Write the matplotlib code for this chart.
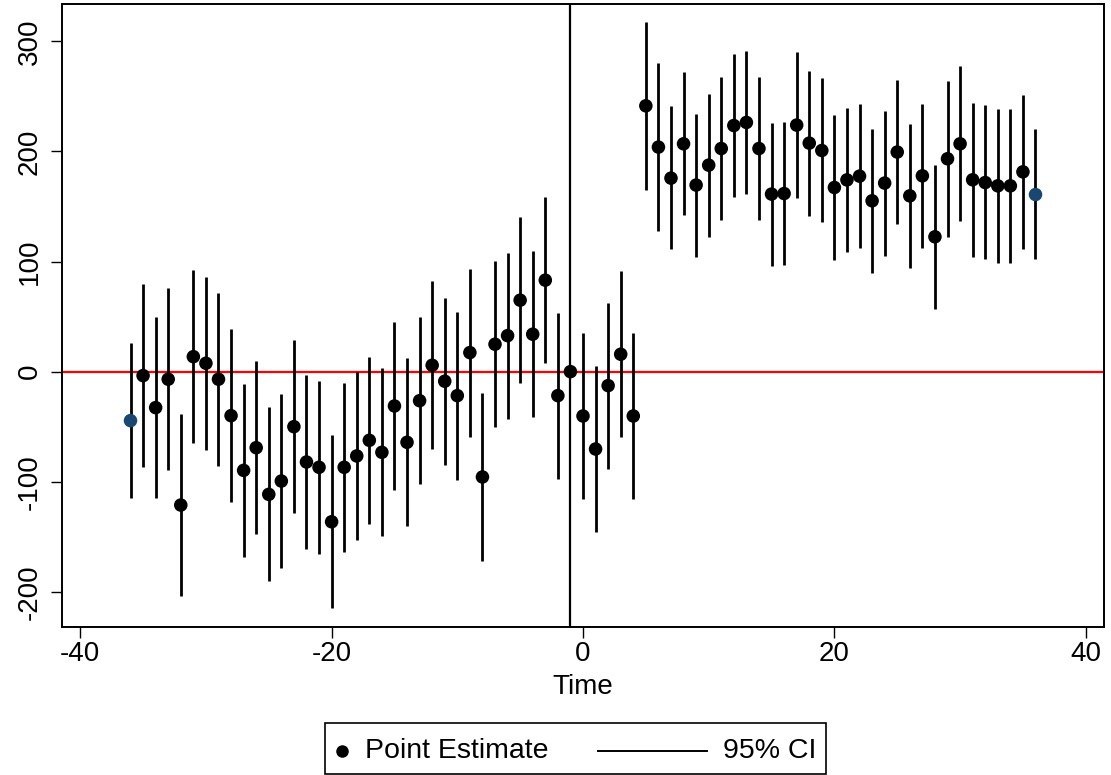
import numpy as np
import matplotlib
matplotlib.use("Agg")
import matplotlib.pyplot as plt
from matplotlib.lines import Line2D
from matplotlib.patches import Rectangle

plt.rcParams['font.family'] = ['Liberation Sans', 'DejaVu Sans']
plt.rcParams['axes.unicode_minus'] = False

# event time, -36 .. 36 (t = -1 is the omitted reference period)
time = np.arange(-36, 37)

estimate = [
    -44.5, -3.6, -32.7, -6.9, -121.2, 13.6, 7.6, -6.9, -40.0, -89.7,
    -69.1, -111.5, -99.4, -50.0, -82.1, -86.9, -136.4, -86.9, -76.6, -62.4,
    -73.3, -31.2, -64.2, -26.4, 5.8, -8.7, -21.8, 17.3, -95.7, 24.9,
    32.7, 64.9, 34.0, 83.1, -21.8, 0.0, -40.3, -70.3, -12.7, 15.8,
    -40.3, 241.5, 204.0, 175.8, 207.0, 169.5, 187.6, 202.7, 223.6, 226.4,
    202.7, 161.3, 161.8, 224.0, 207.6, 200.9, 167.3, 174.2, 177.6, 155.2,
    171.3, 199.5, 159.7, 177.9, 122.5, 193.4, 207.0, 174.3, 171.8, 168.8,
    168.8, 181.5, 160.9,
]

ci_upper = [
    26.4, 79.4, 50.0, 75.8, -38.5, 92.5, 86.4, 71.8, 38.8, -11.2,
    9.7, -32.4, -20.6, 28.8, -3.3, -8.2, -57.5, -10.6, -0.3, 13.6,
    3.1, 45.2, 12.2, 50.0, 82.2, 67.3, 54.3, 93.4, -19.7, 100.4,
    107.9, 140.4, 109.5, 158.5, 53.6, 0.0, 34.9, 5.2, 62.7, 91.5,
    34.9, 317.6, 280.4, 240.9, 271.8, 234.3, 252.5, 267.6, 288.5, 291.3,
    267.6, 225.8, 226.7, 290.0, 273.4, 266.7, 233.1, 239.5, 243.0, 220.6,
    236.4, 264.9, 225.2, 243.1, 187.9, 263.6, 277.3, 244.5, 242.2, 238.8,
    238.8, 251.3, 220.0,
]

ci_lower = [
    -115.1, -86.4, -115.1, -89.4, -203.6, -65.1, -71.2, -85.7, -118.8, -168.2,
    -147.9, -190.3, -178.2, -128.8, -160.9, -165.7, -215.1, -163.6, -153.0, -138.7,
    -149.4, -107.5, -140.3, -102.4, -70.3, -84.8, -98.5, -59.1, -172.1, -50.5,
    -43.0, -10.5, -41.5, 7.6, -97.3, 0.0, -116.0, -145.7, -88.2, -59.7,
    -116.0, 165.2, 127.9, 111.3, 142.2, 104.5, 122.7, 137.9, 158.8, 161.8,
    137.9, 96.1, 97.0, 158.2, 141.5, 135.5, 101.8, 108.5, 112.2, 89.5,
    105.5, 134.0, 94.0, 112.2, 56.7, 122.7, 136.4, 104.5, 102.2, 98.8,
    98.8, 111.5, 102.2,
]

x_ticks = [-40, -20, 0, 20, 40]
y_ticks = [-200, -100, 0, 100, 200, 300]

FS = 20

W, H = 1111, 775
fig = plt.figure(figsize=(W / 100, H / 100), dpi=100)
ax = fig.add_axes([62 / W, 1 - 627 / H, (1104 - 62) / W, (627 - 4) / H])

est = np.array(estimate)
lo = np.array(ci_lower)
hi = np.array(ci_upper)

# reference lines
ax.axhline(0, color='#ff0000', lw=1.6, zorder=1)
ax.axvline(-1, color='black', lw=1.6, zorder=1)

# confidence intervals
ax.vlines(time, lo, hi, color='black', lw=2.0, zorder=2)

# point estimates; the two end points are drawn in navy
colors = ['black'] * len(time)
colors[0] = '#1a476f'
colors[-1] = '#1a476f'
ax.scatter(time, est, s=95, c=colors, edgecolors='none', zorder=3)

ax.set_xlim(-41.45, 41.45)
ax.set_ylim(-232, 334)
ax.set_xticks(x_ticks)
ax.set_yticks(y_ticks)
ax.tick_params(axis='both', direction='out', length=8, width=1.0,
               labelsize=FS, color='black')
ax.tick_params(axis='x', pad=2)
ax.tick_params(axis='y', pad=6)
for lbl in ax.get_yticklabels():
    lbl.set_rotation(90)
    lbl.set_va('center')
for sp in ax.spines.values():
    sp.set_linewidth(1.4)
    sp.set_color('black')

ax.set_xlabel('Time', fontsize=FS, labelpad=5)

# legend box below the plot area
def fx(px):
    return px / W

def fy(py):
    return 1 - py / H

fig.add_artist(Rectangle((fx(325), fy(774)), fx(826) - fx(325), fy(723) - fy(774),
                         transform=fig.transFigure, fill=False,
                         edgecolor='black', lw=1.2))
fig.add_artist(Line2D([fx(342)], [fy(751)], transform=fig.transFigure,
                      marker='o', ms=8, color='black', ls='none'))
fig.text(fx(365), fy(751), 'Point Estimate', fontsize=FS + 0.5, va='center', ha='left')
fig.add_artist(Line2D([fx(598), fx(707)], [fy(751), fy(751)],
                      transform=fig.transFigure, color='black', lw=1.4))
fig.text(fx(723), fy(751), '95% CI', fontsize=FS + 0.5, va='center', ha='left')

fig.savefig('out.png', dpi=100)
